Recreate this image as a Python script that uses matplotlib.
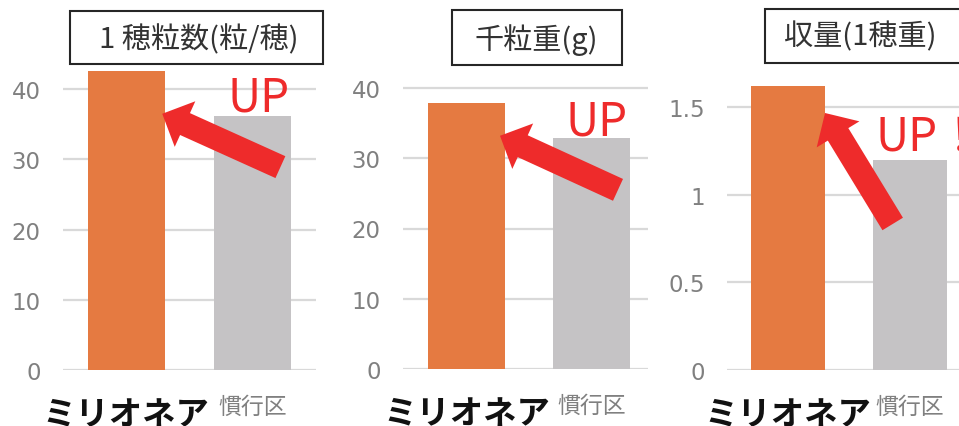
import matplotlib
matplotlib.use("Agg")
import matplotlib.pyplot as plt
from matplotlib.patches import Rectangle
from matplotlib.transforms import ScaledTranslation

plt.rcParams['font.family'] = ['Noto Sans CJK JP', 'DejaVu Sans']

W, H = 959, 427

# ---- data ----
categories = ["ミリオネア", "慣行区"]
grains_per_ear = [42.6, 36.2]          # 1穂粒数(粒/穂)
thousand_grain_weight = [37.9, 32.9]   # 千粒重(g)
yield_per_ear = [1.62, 1.20]           # 収量(1穂重)
titles = ["1 穂粒数(粒/穂)", "千粒重(g)", "収量(1穂重)"]
up_labels = ["UP", "UP", "UP！"]
yticks_count = [0, 10, 20, 30, 40]
yticks_yield = [0, 0.5, 1, 1.5]
yticklabels_yield = ["0", "0.5", "1", "1.5"]

bar_colors = ["#E57A41", "#C5C3C5"]
red = "#EE2B2B"
grid_color = "#D9D9D9"
tick_color = "#808080"

fig = plt.figure(figsize=(W / 100, H / 100), dpi=100)


def px_axes(left, right, bottom_y, top_y):
    return fig.add_axes([left / W, 1 - bottom_y / H, (right - left) / W, (bottom_y - top_y) / H])


panels = [
    dict(vals=grains_per_ear, box=(70, 323, 12, 65), tcen=(199, 40),
         ax=(63, 315.5, 371, 371 - 45 * 7.02), ylim=(0, 45), xlim=(-0.5, 1.5),
         yt=yticks_count, ytl=[str(v) for v in yticks_count],
         up=(0.80, 36.9), tip=(0.286, 36.5), tail=(1.222, 28.9)),
    dict(vals=thousand_grain_weight, box=(452, 622, 11, 66), tcen=(536, 40),
         ax=(403, 648, 370, 370 - 45 * 7.025), ylim=(0, 45), xlim=(-0.508, 1.452),
         yt=yticks_count, ytl=[str(v) for v in yticks_count],
         up=(0.79, 33.45), tip=(0.268, 33.2), tail=(1.212, 25.5)),
    dict(vals=yield_per_ear, box=(765, 980, 10, 64), tcen=(860, 37),
         ax=(727, 959, 371, 371 - 1.8 * 175.3), ylim=(0, 1.8), xlim=(-0.5, 1.40),
         yt=yticks_yield, ytl=yticklabels_yield,
         up=(0.72, 1.26), tip=(0.303, 1.466), tail=(0.857, 0.833)),
]

for i, p in enumerate(panels):
    ax = px_axes(*p["ax"])
    ax.set_facecolor("none")
    x = list(range(len(categories)))
    ax.bar(x, p["vals"], width=0.61, color=bar_colors, zorder=2)
    ax.set_xlim(*p["xlim"])
    ax.set_ylim(*p["ylim"])
    ax.yaxis.grid(True, color=grid_color, linewidth=1.6, zorder=0)
    ax.set_axisbelow(True)
    for s in ax.spines.values():
        s.set_visible(False)
    ax.tick_params(axis="y", length=0, pad=16, labelsize=16.5, labelcolor=tick_color)
    ax.tick_params(axis="x", length=0, pad=18)
    ax.set_yticks(p["yt"])
    ax.set_yticklabels(p["ytl"], family="DejaVu Sans")
    ax.set_xticks(x)
    ax.set_xticklabels(categories)
    lbls = ax.get_xticklabels()
    lbls[0].set_fontsize(24)
    lbls[0].set_fontweight("bold")
    lbls[0].set_color("#111111")
    lbls[0].set_transform(lbls[0].get_transform() +
                          ScaledTranslation(0, -3 / 72, fig.dpi_scale_trans))
    lbls[1].set_fontsize(16.5)
    lbls[1].set_color(tick_color)

    # arrow and UP annotation
    ax.annotate("", xy=p["tip"], xytext=p["tail"],
                arrowprops=dict(arrowstyle="simple,head_length=0.5,head_width=1.0,tail_width=0.48",
                                mutation_scale=36, color=red, lw=0, shrinkA=0, shrinkB=0),
                zorder=5)
    ax.text(p["up"][0], p["up"][1], up_labels[i], color=red, fontsize=33,
            ha="left", va="baseline", zorder=6)

    # title box
    bx0, bx1, by0, by1 = p["box"]
    fig.patches.append(Rectangle((bx0 / W, 1 - by1 / H), (bx1 - bx0) / W, (by1 - by0) / H,
                                 transform=fig.transFigure, facecolor="white",
                                 edgecolor="#262626", linewidth=1.5, zorder=3))
    fig.text(p["tcen"][0] / W, 1 - p["tcen"][1] / H, titles[i], ha="center", va="center",
             fontsize=21, color="#333333", zorder=4)

fig.savefig("out.png", dpi=100, facecolor="white")
